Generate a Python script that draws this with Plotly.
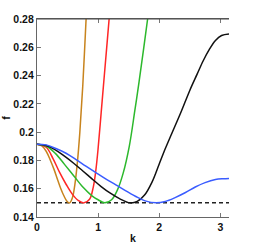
import plotly.graph_objects as go

# ---- data ----
k_brown = [0, 0.08, 0.15, 0.22, 0.28, 0.34, 0.39, 0.44, 0.49, 0.535, 0.58, 0.62, 0.66, 0.70, 0.75, 0.80, 0.84]
f_brown = [0.1915, 0.1903, 0.1865, 0.1800, 0.1735, 0.1660, 0.1600, 0.1550, 0.1512, 0.1500, 0.1537, 0.1631, 0.1783, 0.1993, 0.2337, 0.2771, 0.31]

k_red = [0, 0.15, 0.26, 0.37, 0.48, 0.58, 0.68, 0.77, 0.86, 0.92, 0.96, 1.0, 1.05, 1.1, 1.18, 1.25]
f_red = [0.1915, 0.1893, 0.1815, 0.1715, 0.1628, 0.1560, 0.1515, 0.1500, 0.1525, 0.1610, 0.1720, 0.1885, 0.2138, 0.2393, 0.2800, 0.316]

k_green = [0, 0.15, 0.3, 0.45, 0.6, 0.75, 0.9, 1.0, 1.11, 1.22, 1.32, 1.41, 1.51, 1.6, 1.67, 1.81, 1.9]
f_green = [0.1915, 0.1902, 0.1850, 0.1772, 0.1692, 0.1612, 0.1550, 0.1522, 0.1500, 0.1522, 0.1595, 0.1710, 0.1900, 0.2150, 0.2356, 0.2800, 0.31]

k_black = [0, 0.15, 0.3, 0.45, 0.6, 0.75, 0.9, 1.05, 1.2, 1.35, 1.52, 1.64, 1.76, 1.88, 2.0, 2.1, 2.2,
           2.35, 2.5, 2.62, 2.72, 2.82, 2.92, 3.02, 3.1416]
f_black = [0.1915, 0.1905, 0.1875, 0.1830, 0.1780, 0.1725, 0.1670, 0.1615, 0.1568, 0.1530, 0.1500, 0.1510,
           0.1555, 0.1645, 0.1775, 0.1884, 0.1985, 0.2135, 0.2295, 0.2410, 0.2505, 0.2585, 0.2648, 0.2683, 0.2694]

k_blue = [0, 0.15, 0.31, 0.475, 0.64, 0.80, 0.97, 1.13, 1.29, 1.44, 1.61, 1.77, 1.95, 2.10, 2.26, 2.43,
          2.59, 2.75, 2.92, 3.05, 3.1416]
f_blue = [0.1915, 0.1910, 0.1884, 0.1851, 0.1806, 0.1760, 0.1712, 0.1668, 0.1627, 0.1588, 0.1547, 0.1514,
          0.1500, 0.1510, 0.1537, 0.1573, 0.1612, 0.1643, 0.1665, 0.1671, 0.1673]

k_ref = [0, 3.1416]
f_ref = [0.15, 0.15]

x_ticks = [0, 1, 2, 3]
y_ticks = [0.14, 0.16, 0.18, 0.2, 0.22, 0.24, 0.26, 0.28]
y_tick_text = ["0.14", "0.16", "0.18", "0.2", "0.22", "0.24", "0.26", "0.28"]

series = [
    (k_brown, f_brown, "#c8841e"),
    (k_red, f_red, "#ff2626"),
    (k_green, f_green, "#2cb82c"),
    (k_black, f_black, "#111111"),
    (k_blue, f_blue, "#3a5cff"),
]

fig = go.Figure()
fig.add_trace(go.Scatter(x=k_ref, y=f_ref, mode="lines",
                         line=dict(color="#222222", width=1.5, dash="4px,3px"),
                         showlegend=False, hoverinfo="skip"))
for kx, fy, col in series:
    fig.add_trace(go.Scatter(x=kx, y=fy, mode="lines",
                             line=dict(color=col, width=1.5, shape="spline", smoothing=1),
                             showlegend=False))

font = dict(family="Liberation Sans, Arial, sans-serif", size=10.5, color="#111111", weight="bold")

fig.update_layout(
    width=253, height=244,
    margin=dict(l=37, r=24, t=19, b=27, autoexpand=False),
    paper_bgcolor="white", plot_bgcolor="white",
    font=font,
    xaxis=dict(range=[0, 3.1416], tickvals=x_ticks, ticks="inside", ticklen=4,
               tickcolor="#777777", showline=True, linecolor="#666666", linewidth=1.2,
               mirror="ticks", showgrid=False, zeroline=False,
               title=dict(text="k", standoff=3, font=font)),
    yaxis=dict(range=[0.14, 0.28], tickvals=y_ticks, ticktext=y_tick_text, ticks="inside",
               ticklen=4, tickcolor="#777777", showline=True, linecolor="#666666", linewidth=1.2,
               mirror=False, showgrid=False, zeroline=False,
               title=dict(text="f", standoff=6, font=font)),
    yaxis2=dict(range=[0.14, 0.28], tickvals=y_ticks, overlaying="y", side="right",
                showticklabels=False, ticks="inside", ticklen=4, tickcolor="#888888",
                showline=True, linecolor="#aaaaaa", linewidth=2, showgrid=False, zeroline=False),
)
# top border line
fig.add_shape(type="line", xref="paper", yref="paper", x0=0, x1=1, y0=1, y1=1,
              line=dict(color="#444444", width=1.2))

fig.write_html("out.html", config={"displayModeBar": False},
               post_script="document.body.style.margin='0px';")
